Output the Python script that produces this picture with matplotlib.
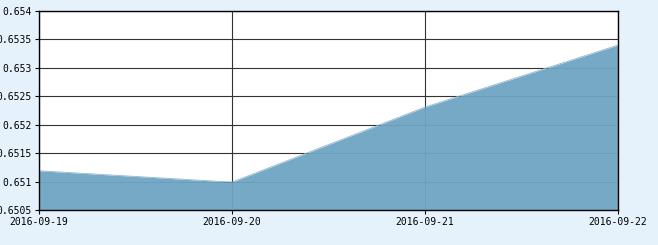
import matplotlib.pyplot as plt
from matplotlib.ticker import FuncFormatter

dates = ["2016-09-19", "2016-09-20", "2016-09-21", "2016-09-22"]
values = [0.65119, 0.65099, 0.65231, 0.65340]
y_ticks = [0.6505, 0.651, 0.6515, 0.652, 0.6525, 0.653, 0.6535, 0.654]

bg = "#e6f2fb"
fig = plt.figure(figsize=(6.58, 2.45), dpi=100, facecolor=bg)
ax = fig.add_axes([39 / 658, 35 / 245, 579 / 658, 199 / 245])
ax.set_facecolor("white")

x = list(range(len(dates)))
ax.fill_between(x, values, 0.6505, color="#6fa5c3", alpha=0.95, linewidth=0, zorder=3)
ax.plot(x, values, color="#8fb8d0", linewidth=0.6, zorder=4)

ax.set_xlim(0, len(dates) - 1)
ax.set_ylim(0.6505, 0.654)
ax.set_xticks(x)
ax.set_xticklabels(dates)
ax.set_yticks(y_ticks)
ax.yaxis.set_major_formatter(FuncFormatter(lambda v, p: f"{v:g}"))

ax.grid(True, color="#333333", linewidth=0.8, zorder=1)
ax.set_axisbelow(True)
for s in ax.spines.values():
    s.set_color("black")
    s.set_linewidth(1.0)
    s.set_zorder(5)

ax.tick_params(direction="out", length=3, width=0.8, colors="black",
               labelsize=7, pad=2)
for lbl in ax.get_xticklabels() + ax.get_yticklabels():
    lbl.set_family("DejaVu Sans Mono")

fig.savefig("out.png", dpi=100, facecolor=bg)
